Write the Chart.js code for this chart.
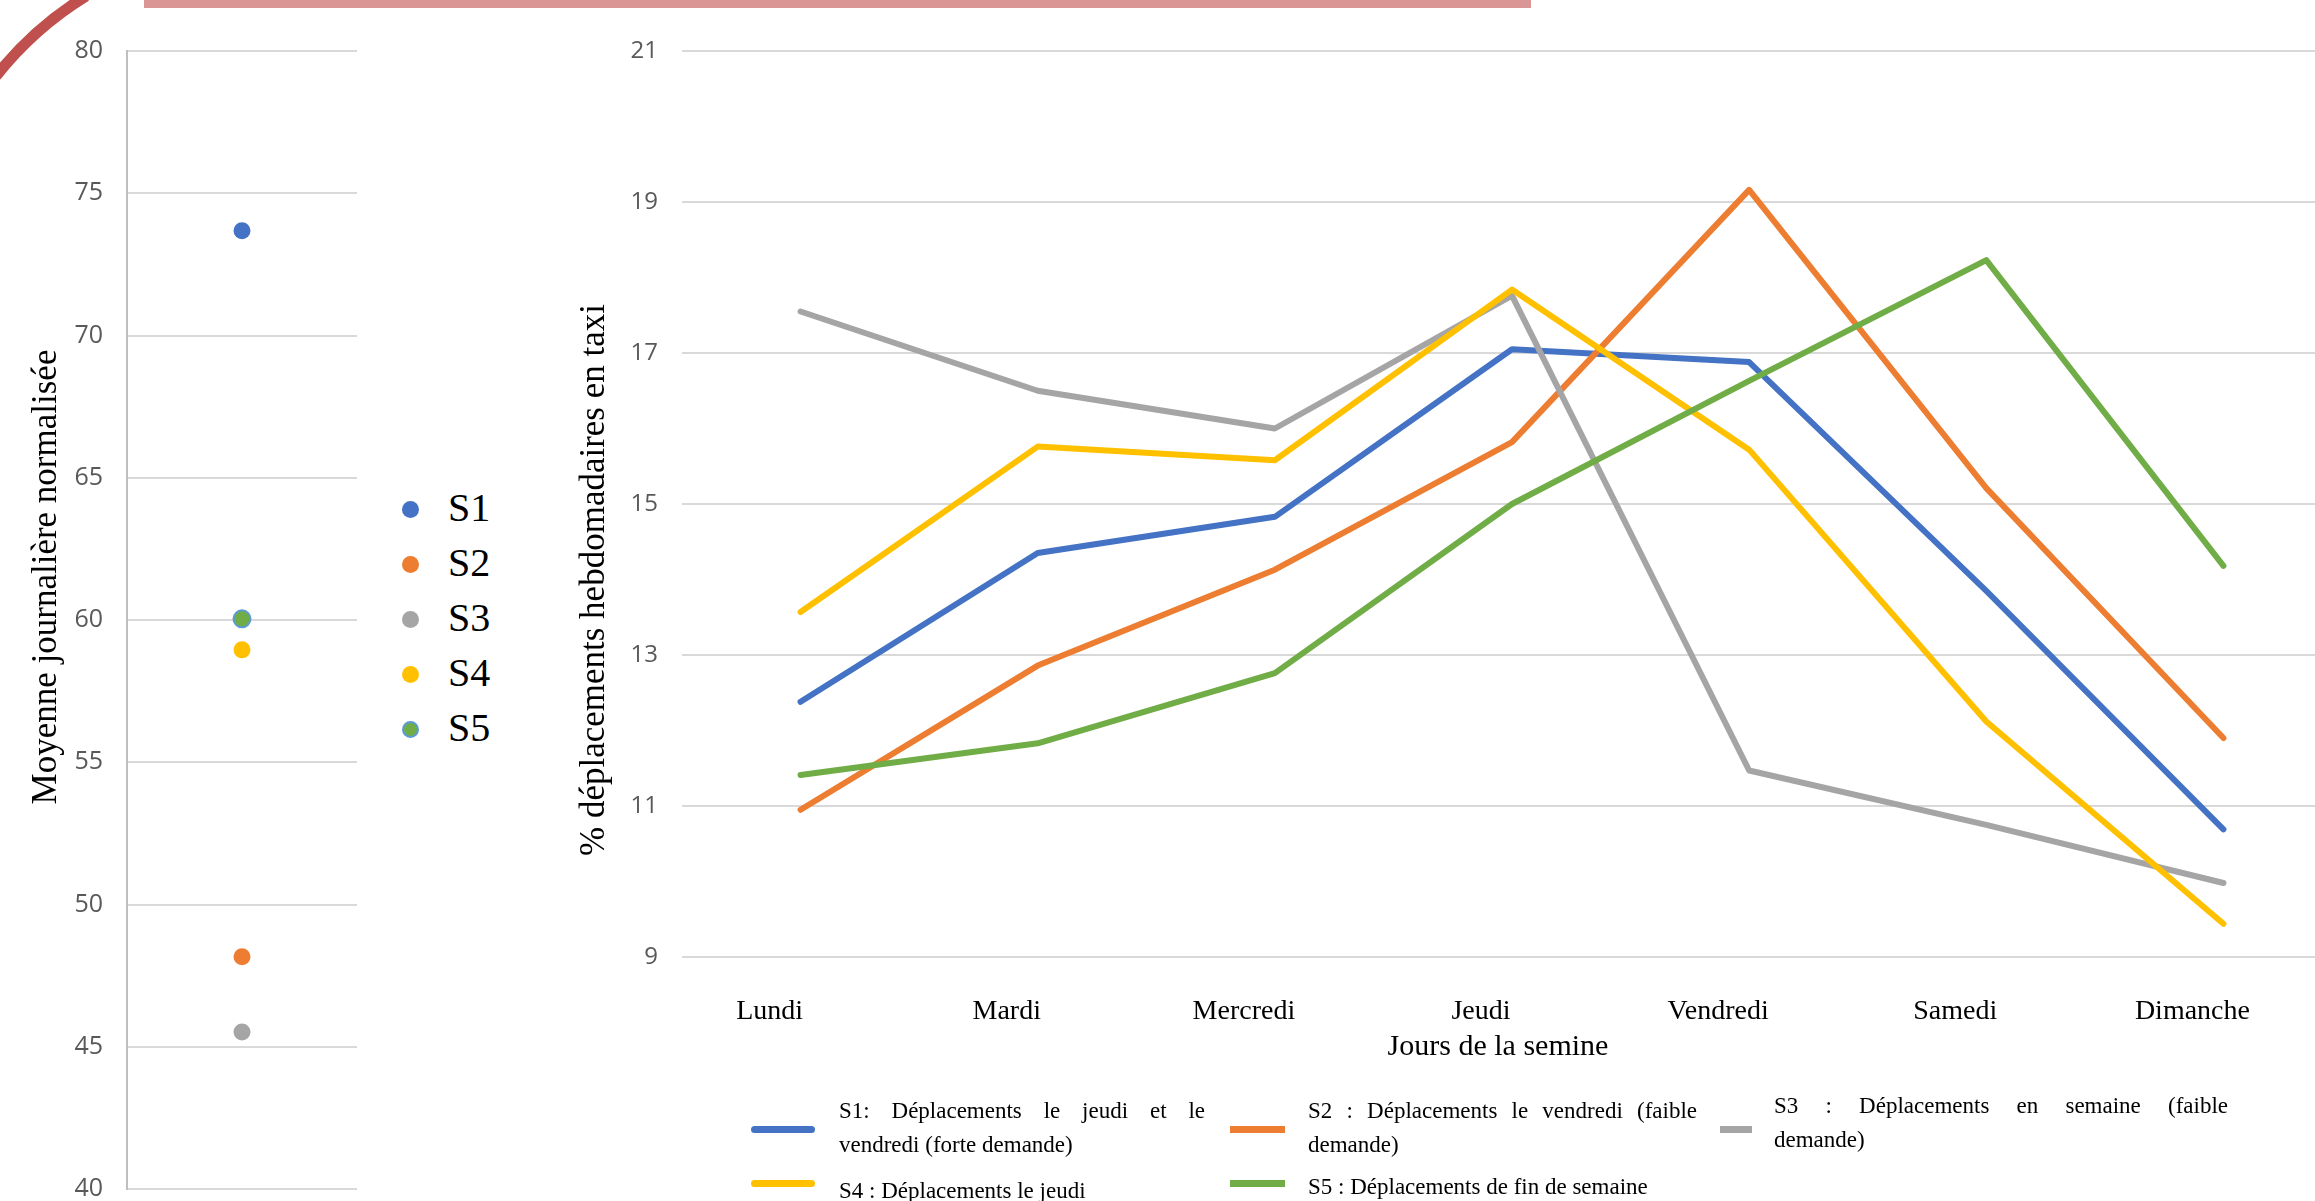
<!DOCTYPE html>
<html lang="fr">
<head>
<meta charset="utf-8">
<title>Déplacements hebdomadaires en taxi</title>
<script src="https://cdn.jsdelivr.net/npm/chart.js@4.4.1/dist/chart.umd.min.js"></script>
<style>
html, body { margin:0; padding:0; width:2315px; height:1201px; overflow:hidden; background:#fff; }
#deco { position:absolute; left:0; top:0; }
#barre { position:absolute; left:144px; top:0; width:1387px; height:8px; background:#DA9694; }
#cvMoy { position:absolute; left:0; top:0; }
#cvJours { position:absolute; left:560px; top:0; }
.lgS { position:absolute; font-family:"Liberation Serif","Times New Roman",serif; font-size:40px; line-height:40px; color:#000; }
.lgS span.pt { position:absolute; width:17px; height:17px; border-radius:50%; box-sizing:border-box; }
.lgB { position:absolute; font-family:"Liberation Serif","Times New Roman",serif; font-size:23px; line-height:34px; color:#000; }
.lgB div.j { text-align:justify; text-align-last:justify; }
.mk { position:absolute; height:7px; }
</style>
</head>
<body>
<svg id="deco" width="200" height="120">
  <path d="M -4 76 Q 34 28 86 -4" stroke="#C0504D" stroke-width="11" fill="none"/>
</svg>
<div id="barre"></div>
<canvas id="cvMoy" width="400" height="1230"></canvas>
<canvas id="cvJours" width="1800" height="1201"></canvas>
<div id="legendes"></div>
<script>
// données
const scenarios = ["S1", "S2", "S3", "S4", "S5"];
const moyennes = [73.68, 48.16, 45.52, 58.95, 60.04];
const ticksMoy = [40, 45, 50, 55, 60, 65, 70, 75, 80];

const jours = ["Lundi", "Mardi", "Mercredi", "Jeudi", "Vendredi", "Samedi", "Dimanche"];
const s1 = [12.38, 14.35, 14.83, 17.05, 16.88, 13.85, 10.69];
const s2 = [10.95, 12.86, 14.13, 15.82, 19.16, 15.21, 11.90];
const s3 = [17.55, 16.50, 16.00, 17.76, 11.47, 10.75, 9.98];
const s4 = [13.57, 15.76, 15.58, 17.84, 15.72, 12.12, 9.44];
const s5 = [11.41, 11.83, 12.76, 15.00, 16.63, 18.23, 14.18];
const ticksPct = [9, 11, 13, 15, 17, 19, 21];

const legendeLignes = [
    ["S1: Déplacements le jeudi et le", "vendredi (forte demande)"],
    ["S2 : Déplacements le vendredi (faible", "demande)"],
    ["S3 : Déplacements en semaine (faible", "demande)"],
    ["S4 : Déplacements le jeudi"],
    ["S5 : Déplacements de fin de semaine"]
];

const couleurs = ["#4472C4", "#ED7D31", "#A5A5A5", "#FFC000", "#70AD47"];
const bordures = ["#4472C4", "#ED7D31", "#A5A5A5", "#FFC000", "#5B9BD5"];
const series = [s1, s2, s3, s4, s5];

// titres d'axes dessinés à une place précise
const titresAxes = {
    id: 'titresAxes',
    afterDraw(chart, args, opts) {
        const {ctx} = chart;
        opts.items.forEach(t => {
            ctx.save();
            ctx.translate(t.x, t.y);
            ctx.rotate(t.rot || 0);
            ctx.font = t.font;
            ctx.fillStyle = '#000';
            ctx.textAlign = 'center';
            ctx.textBaseline = 'middle';
            ctx.fillText(t.text, 0, 0);
            ctx.restore();
        });
    }
};

const gris = '#D9D9D9';

// graphique de gauche : moyenne journalière
new Chart(document.getElementById('cvMoy'), {
    type: 'scatter',
    data: {
        datasets: scenarios.map((s, i) => ({
            label: s,
            data: [{x: 0, y: moyennes[i]}],
            backgroundColor: couleurs[i],
            borderColor: bordures[i],
            borderWidth: i === 4 ? 2 : 0,
            pointRadius: 8.5,
            pointHoverRadius: 8.5
        }))
    },
    options: {
        responsive: false,
        animation: false,
        events: [],
        layout: {padding: {left: 0, right: 43, top: 51, bottom: 41}},
        scales: {
            x: {type: 'linear', min: -1, max: 1, display: false},
            y: {
                min: 40, max: 80,
                afterBuildTicks: s => { s.ticks = ticksMoy.map(v => ({value: v})); },
                afterFit: s => { s.width = 127; },
                ticks: {color: '#595959', font: {family: 'Open Sans', size: 25}, padding: 24},
                grid: {color: gris, lineWidth: 2, drawTicks: false},
                border: {color: '#BFBFBF', width: 2}
            }
        },
        plugins: {
            legend: {display: false},
            tooltip: {enabled: false},
            titresAxes: {items: [
                {text: 'Moyenne journalière normalisée', x: 47, y: 577, rot: -Math.PI / 2,
                 font: '35px "Liberation Serif", serif'}
            ]}
        }
    },
    plugins: [titresAxes]
});

// graphique de droite : répartition sur la semaine
new Chart(document.getElementById('cvJours'), {
    type: 'line',
    data: {
        labels: jours,
        datasets: series.map((d, i) => ({
            label: scenarios[i],
            data: d,
            borderColor: couleurs[i],
            backgroundColor: couleurs[i],
            borderWidth: 6,
            borderCapStyle: 'round',
            borderJoinStyle: 'round',
            pointRadius: 0,
            tension: 0,
            order: 4 - i
        }))
    },
    options: {
        responsive: false,
        animation: false,
        events: [],
        layout: {padding: {left: 0, right: 18, top: 51, bottom: 0}},
        scales: {
            x: {
                offset: true,
                afterFit: s => { s.height = 244; },
                ticks: {color: '#000', font: {family: 'Liberation Serif', size: 28}, padding: 38, labelOffset: -31},
                grid: {display: false, drawTicks: false},
                border: {display: false}
            },
            y: {
                min: 9, max: 21,
                afterBuildTicks: s => { s.ticks = ticksPct.map(v => ({value: v})); },
                afterFit: s => { s.width = 122; },
                ticks: {color: '#595959', font: {family: 'Open Sans', size: 24}, padding: 24},
                grid: {color: gris, lineWidth: 2, drawTicks: false},
                border: {display: false}
            }
        },
        plugins: {
            legend: {display: false},
            tooltip: {enabled: false},
            titresAxes: {items: [
                {text: '% déplacements hebdomadaires en taxi', x: 35, y: 580, rot: -Math.PI / 2,
                 font: '35px "Liberation Serif", serif'},
                {text: 'Jours de la semine', x: 938, y: 1047, rot: 0,
                 font: '30px "Liberation Serif", serif'}
            ]}
        }
    },
    plugins: [titresAxes]
});

// légendes en HTML
const zone = document.getElementById('legendes');

// légende S1..S5 du graphique de gauche
scenarios.forEach((s, i) => {
    const el = document.createElement('div');
    el.className = 'lgS';
    const y = 509 + i * 55;
    el.style.left = '448px';
    el.style.top = (y - 21) + 'px';
    el.textContent = s;
    const pt = document.createElement('span');
    pt.className = 'pt';
    pt.style.left = '-46px';
    pt.style.top = '13px';
    pt.style.background = couleurs[i];
    if (i === 4) pt.style.border = '2px solid ' + bordures[i];
    el.appendChild(pt);
    zone.appendChild(el);
});

// légende du bas
const placeLeg = [
    {mx: 751, mw: 64, my: 1129, tx: 839, tw: 366, ty: 1094, rond: true},
    {mx: 1230, mw: 55, my: 1129, tx: 1308, tw: 389, ty: 1094, rond: false},
    {mx: 1720, mw: 32, my: 1129, tx: 1774, tw: 454, ty: 1089, rond: false},
    {mx: 751, mw: 64, my: 1183, tx: 839, tw: 400, ty: 1174, rond: true},
    {mx: 1230, mw: 55, my: 1183, tx: 1308, tw: 450, ty: 1170, rond: false}
];
legendeLignes.forEach((lignes, i) => {
    const p = placeLeg[i];
    const mk = document.createElement('div');
    mk.className = 'mk';
    mk.style.left = p.mx + 'px';
    mk.style.top = (p.my - 3.5) + 'px';
    mk.style.width = p.mw + 'px';
    mk.style.background = couleurs[i];
    if (p.rond) mk.style.borderRadius = '4px';
    zone.appendChild(mk);

    const bloc = document.createElement('div');
    bloc.className = 'lgB';
    bloc.style.left = p.tx + 'px';
    bloc.style.top = p.ty + 'px';
    bloc.style.width = p.tw + 'px';
    lignes.forEach((l, k) => {
        const d = document.createElement('div');
        if (k < lignes.length - 1) d.className = 'j';
        d.textContent = l;
        bloc.appendChild(d);
    });
    zone.appendChild(bloc);
});
</script>
</body>
</html>
